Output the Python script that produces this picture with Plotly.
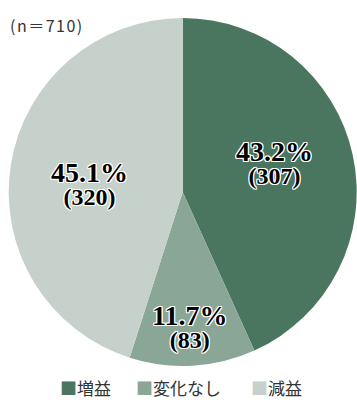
import math
import plotly.graph_objects as go

# Survey result: change in profit, n = 710
categories = ["増益", "変化なし", "減益"]
shares = [43.2, 11.7, 45.1]          # percent
counts = [307, 83, 320]              # respondents
colors = ["#4a7660", "#8aa696", "#c7d1cc"]
sample_note = "(n＝710)"

W, H = 357, 400
# pie placement (pixels): centre and radius
CX, CY, R = 182.7, 192.0, 174.0
dom_x = [(CX - R) / W, (CX + R) / W]
dom_y = [(H - CY - R) / H, (H - CY + R) / H]

fig = go.Figure(
    go.Pie(
        labels=categories,
        values=counts,
        marker=dict(colors=colors, line=dict(width=0)),
        sort=False,
        direction="clockwise",
        rotation=0,
        textinfo="none",
        hoverinfo="label+percent+value",
        showlegend=False,
        domain=dict(x=dom_x, y=dom_y),
    )
)

# label placement per slice: angle (deg, clockwise from top) and radius fraction
label_angle = [74.0, 177.0, 273.5]
label_frac = [0.55, 0.79, 0.535]

outline = ("1px 1px 0 #fff, -1px -1px 0 #fff, 1px -1px 0 #fff, -1px 1px 0 #fff, "
           "0 1px 0 #fff, 0 -1px 0 #fff, 1px 0 0 #fff, -1px 0 0 #fff")
serif = "Liberation Serif, Times New Roman, serif"

annotations = []
for share, cnt, ang, frac in zip(shares, counts, label_angle, label_frac):
    a = math.radians(ang)
    px = CX + R * frac * math.sin(a)
    py = (H - CY) + R * frac * math.cos(a)
    label = (f"<span style='font-size:28px'><b>{share:.1f}%</b></span><br>"
             f"<span style='font-size:24px'><b>({cnt})</b></span>")
    annotations.append(dict(
        x=px / W, y=py / H, xref="paper", yref="paper",
        text=label, showarrow=False,
        xanchor="center", yanchor="middle", yshift=3,
        font=dict(family=serif, size=18, color="#000", shadow=outline),
    ))

sans = "Noto Sans CJK JP, Noto Sans, sans-serif"
annotations.append(dict(
    x=8 / W, y=1 - 25 / H, xref="paper", yref="paper",
    text=f"<span style='letter-spacing:1.5px'>{sample_note}</span>",
    showarrow=False, xanchor="left", yanchor="middle",
    font=dict(family=sans, size=16, color="#333"),
))

# legend row drawn as coloured square glyphs followed by category names
legend_x = [58, 134, 249]
for name, col, lx in zip(categories, colors, legend_x):
    annotations.append(dict(
        x=lx / W, y=1 - 387.5 / H, xref="paper", yref="paper",
        text=f"<span style='color:{col}'>■</span>{name}",
        showarrow=False, xanchor="left", yanchor="middle",
        font=dict(family=sans, size=17, color="#333"),
    ))

fig.update_layout(
    width=W, height=H,
    margin=dict(l=0, r=0, t=0, b=0),
    paper_bgcolor="#fff",
    plot_bgcolor="#fff",
    annotations=annotations,
)

fig.write_html("out.html")
